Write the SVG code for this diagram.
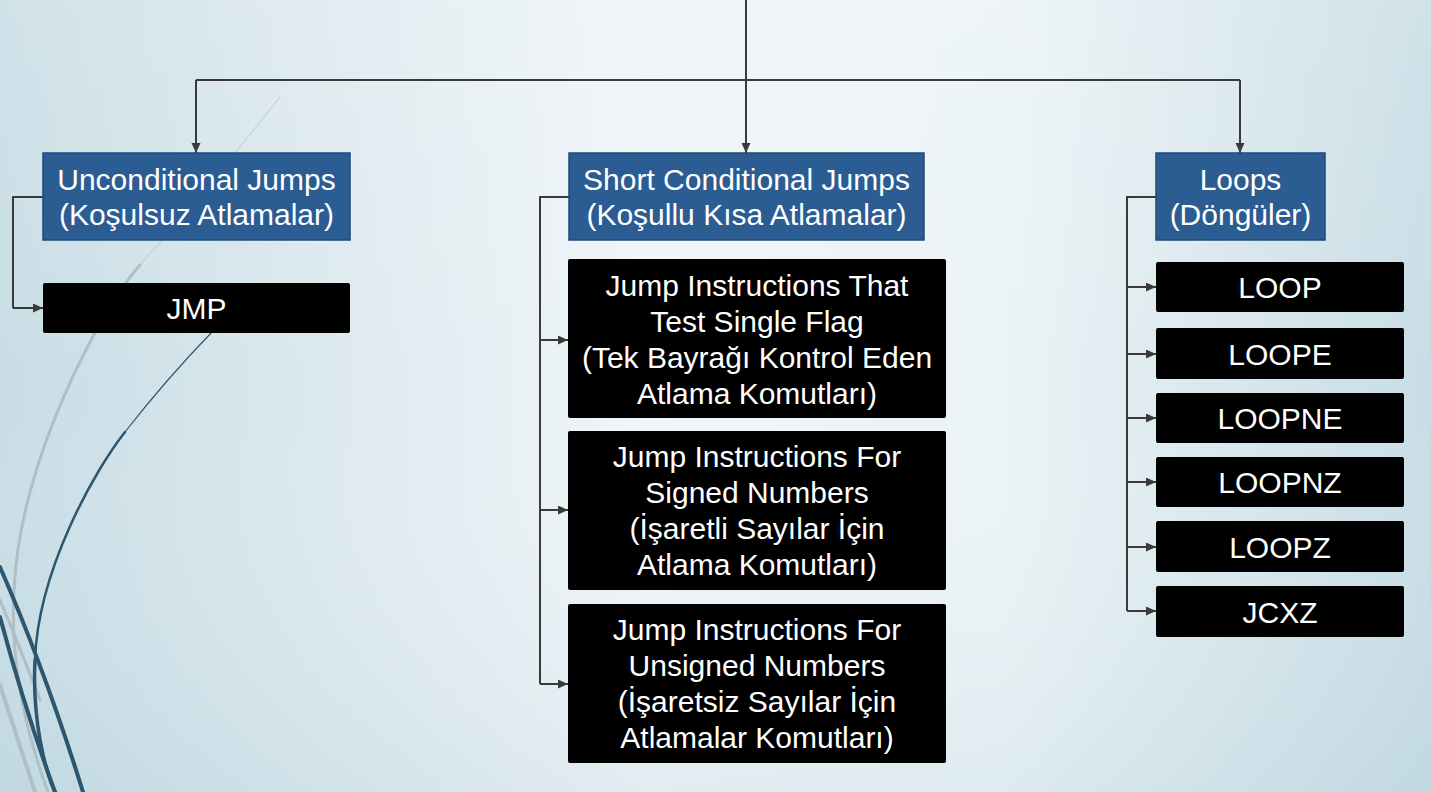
<svg xmlns="http://www.w3.org/2000/svg" width="1431" height="792" viewBox="0 0 1431 792">
<defs>
<linearGradient id="bgx" x1="0" y1="0" x2="1" y2="0">
<stop offset="0" stop-color="#c8dde5"/>
<stop offset="0.45" stop-color="#f0f5f8"/>
<stop offset="0.7" stop-color="#ebf3f6"/>
<stop offset="1" stop-color="#c8dde5"/>
</linearGradient>
<linearGradient id="bgy" x1="0" y1="0" x2="0" y2="1">
<stop offset="0" stop-color="#ffffff" stop-opacity="0.15"/>
<stop offset="0.5" stop-color="#ffffff" stop-opacity="0"/>
<stop offset="1" stop-color="#9fc3d0" stop-opacity="0.18"/>
</linearGradient>
<marker id="arr" markerUnits="userSpaceOnUse" markerWidth="11" markerHeight="10" refX="10" refY="4.5" orient="auto">
<path d="M0,0 L10,4.5 L0,9 z" fill="#3a3a3a"/>
</marker>
<style>
.blue{fill:#2b5c92;stroke:#1f4a78;stroke-width:1.5}
.blk{fill:#000000}
.t{font-family:"Liberation Sans",Arial,sans-serif;font-size:30px;fill:#ffffff;text-anchor:middle}
.c{fill:none;stroke:#3a3a3a;stroke-width:2}
.ca{fill:none;stroke:#3a3a3a;stroke-width:2;marker-end:url(#arr)}
</style>
</defs>
<rect x="0" y="0" width="1431" height="792" fill="url(#bgx)"/>
<rect x="0" y="0" width="1431" height="792" fill="url(#bgy)"/>
<g id="decor" fill="none" stroke-linecap="round">
<path d="M280,97 C230,160 180,220 140,265" stroke="#b8c9cf" stroke-width="1"/>
<path d="M140,265 C100,310 20,460 14,590 C10,660 25,730 48,792" stroke="#aebfc6" stroke-width="3"/>
<path d="M0,685 Q18,740 35,792" stroke="#aebfc6" stroke-width="4"/>
<path d="M0,600 Q25,660 40,700" stroke="#aebfc6" stroke-width="3"/>
<path d="M212,332 C180,365 150,400 125,432" stroke="#2c5770" stroke-width="1.2"/>
<path d="M125,432 C95,470 38,570 35,660" stroke="#2c5770" stroke-width="2.5"/>
<path d="M35,660 C32,720 45,770 55,792" stroke="#2c5770" stroke-width="3.5"/>
<path d="M0,567 Q45,670 83,792" stroke="#2c5770" stroke-width="4"/>
<path d="M0,617 Q25,710 55,792" stroke="#2c5770" stroke-width="4"/>
</g>
<g id="connectors">
<path class="c" d="M746,0 V80 M196,80 H1240"/>
<path class="ca" d="M196,80 V153"/>
<path class="ca" d="M746,80 V153"/>
<path class="ca" d="M1240,80 V153"/>
<path class="c" d="M43,197 H13 V308"/>
<path class="ca" d="M13,308 H43"/>
<path class="c" d="M569,197 H540 V684"/>
<path class="ca" d="M540,340 H568"/>
<path class="ca" d="M540,510 H568"/>
<path class="ca" d="M540,684 H568"/>
<path class="c" d="M1156,197 H1127 V611"/>
<path class="ca" d="M1127,287 H1156"/>
<path class="ca" d="M1127,354 H1156"/>
<path class="ca" d="M1127,418 H1156"/>
<path class="ca" d="M1127,482 H1156"/>
<path class="ca" d="M1127,547 H1156"/>
<path class="ca" d="M1127,611 H1156"/>
</g>
<g id="unconditional">
<rect class="blue" x="43" y="153" width="307" height="87"/>
<text class="t" x="196.5" y="190">Unconditional Jumps</text>
<text class="t" x="196.5" y="225">(Koşulsuz Atlamalar)</text>
</g>
<g id="jmp">
<rect class="blk" x="43" y="283" width="307" height="50" rx="2"/>
<text class="t" x="196.5" y="319">JMP</text>
</g>
<g id="shortcond">
<rect class="blue" x="569" y="153" width="355" height="87"/>
<text class="t" x="746.5" y="190">Short Conditional Jumps</text>
<text class="t" x="746.5" y="225">(Koşullu Kısa Atlamalar)</text>
</g>
<g id="singleflag">
<rect class="blk" x="568" y="259" width="378" height="159" rx="2"/>
<text class="t" x="757" y="296">Jump Instructions That</text>
<text class="t" x="757" y="332">Test Single Flag</text>
<text class="t" x="757" y="368">(Tek Bayrağı Kontrol Eden</text>
<text class="t" x="757" y="404">Atlama Komutları)</text>
</g>
<g id="signed">
<rect class="blk" x="568" y="431" width="378" height="159" rx="2"/>
<text class="t" x="757" y="467">Jump Instructions For</text>
<text class="t" x="757" y="503">Signed Numbers</text>
<text class="t" x="757" y="539">(İşaretli Sayılar İçin</text>
<text class="t" x="757" y="575">Atlama Komutları)</text>
</g>
<g id="unsigned">
<rect class="blk" x="568" y="604" width="378" height="159" rx="2"/>
<text class="t" x="757" y="640">Jump Instructions For</text>
<text class="t" x="757" y="676">Unsigned Numbers</text>
<text class="t" x="757" y="712">(İşaretsiz Sayılar İçin</text>
<text class="t" x="757" y="748">Atlamalar Komutları)</text>
</g>
<g id="loops">
<rect class="blue" x="1156" y="153" width="169" height="87"/>
<text class="t" x="1240.5" y="190">Loops</text>
<text class="t" x="1240.5" y="225">(Döngüler)</text>
</g>
<g id="loop">
<rect class="blk" x="1156" y="262" width="248" height="50" rx="2"/>
<text class="t" x="1280" y="298">LOOP</text>
</g>
<g id="loope">
<rect class="blk" x="1156" y="328" width="248" height="51" rx="2"/>
<text class="t" x="1280" y="364.5">LOOPE</text>
</g>
<g id="loopne">
<rect class="blk" x="1156" y="393" width="248" height="50" rx="2"/>
<text class="t" x="1280" y="429">LOOPNE</text>
</g>
<g id="loopnz">
<rect class="blk" x="1156" y="457" width="248" height="50" rx="2"/>
<text class="t" x="1280" y="493">LOOPNZ</text>
</g>
<g id="loopz">
<rect class="blk" x="1156" y="521" width="248" height="51" rx="2"/>
<text class="t" x="1280" y="557.5">LOOPZ</text>
</g>
<g id="jcxz">
<rect class="blk" x="1156" y="586" width="248" height="51" rx="2"/>
<text class="t" x="1280" y="622.5">JCXZ</text>
</g>
</svg>
